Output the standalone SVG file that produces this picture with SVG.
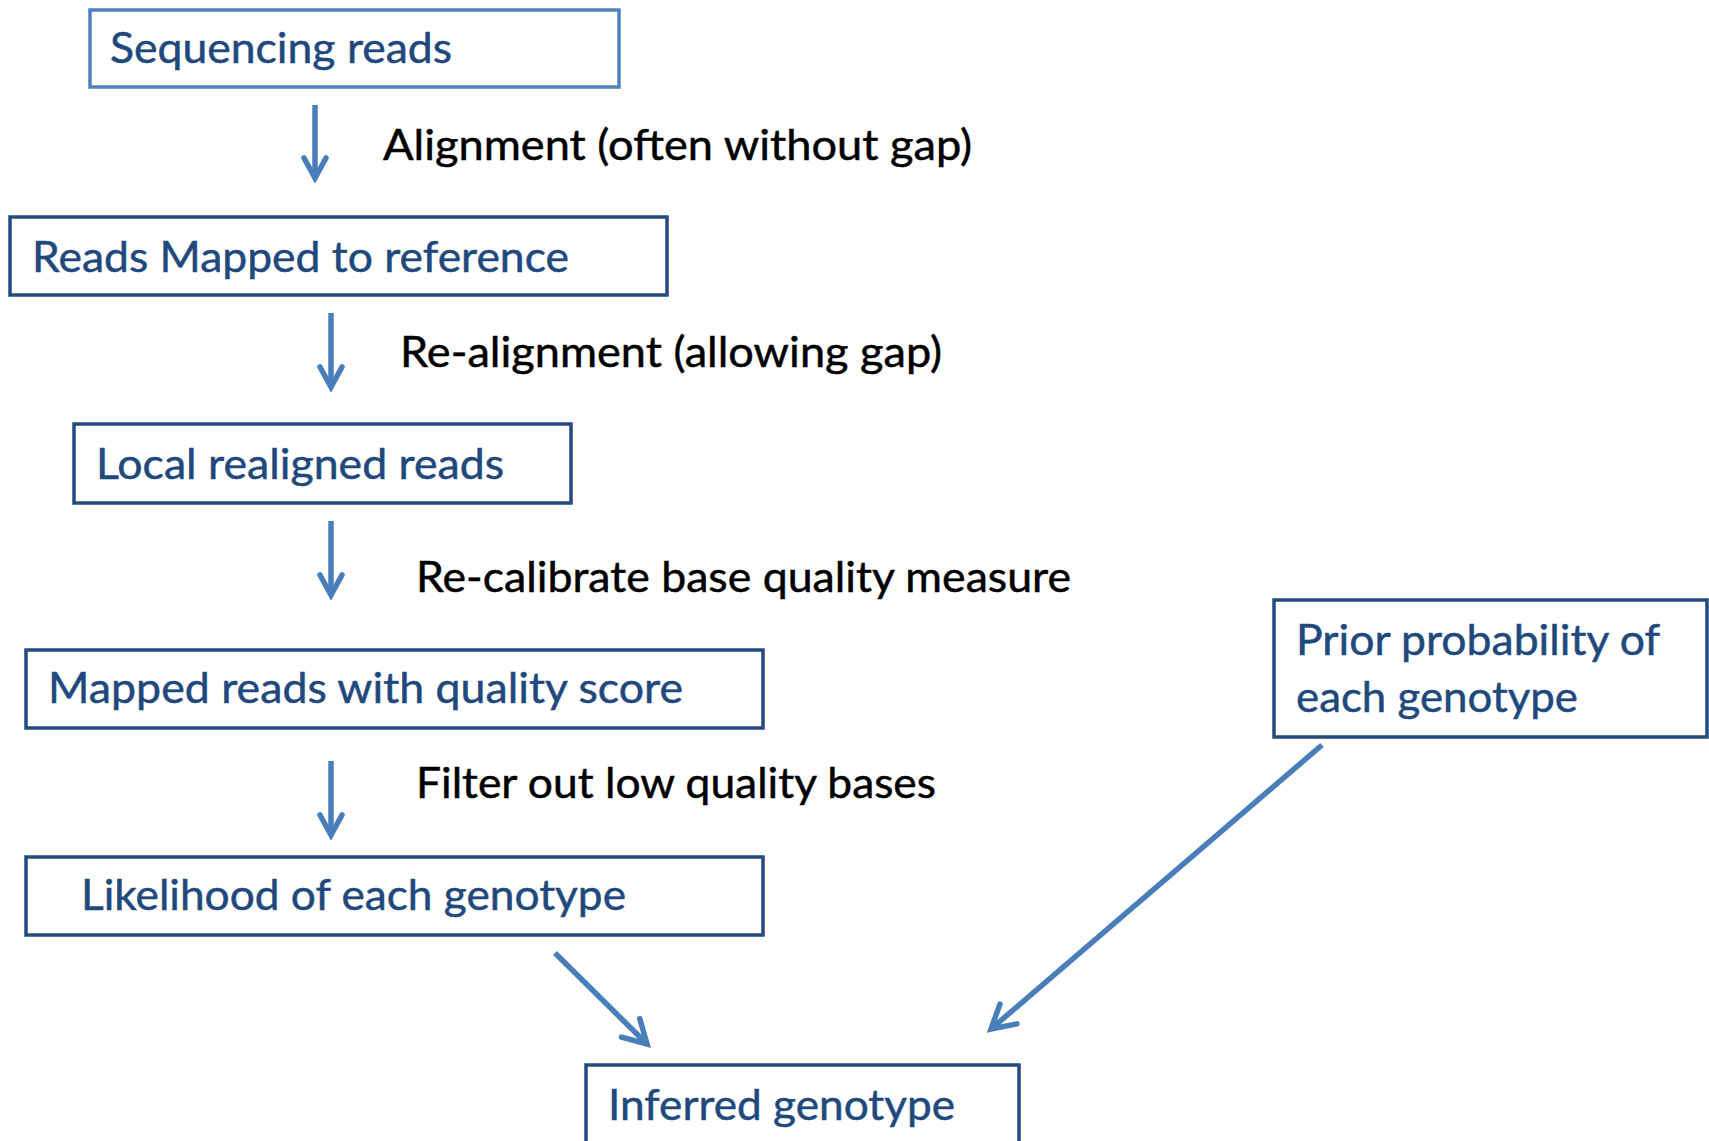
<svg xmlns="http://www.w3.org/2000/svg" width="1709" height="1141" viewBox="0 0 1709 1141">
  <style>
    .box { fill: #ffffff; stroke: #234A7D; stroke-width: 3.5; }
    .box1 { fill: #ffffff; stroke: #4F81BD; stroke-width: 3.5; }
    .nt { font-family: Lato, "Open Sans", "Liberation Sans", sans-serif; font-size: 43px; fill: #1F497D; stroke: #1F497D; stroke-width: 0.5; }
    .lb { font-family: Lato, "Open Sans", "Liberation Sans", sans-serif; font-size: 43px; fill: #000000; stroke: #000000; stroke-width: 0.5; }
    .conn { stroke: #4A7EBB; stroke-width: 5.5; fill: none; }
    .conn2 { stroke: #4A7EBB; stroke-width: 5.5; fill: none; }
  </style>
  <defs>
    <marker id="ah" markerUnits="userSpaceOnUse" markerWidth="40" markerHeight="40" viewBox="-30 -20 40 40" refX="0" refY="0" orient="auto">
      <path d="M -20 -11 L 0 0 L -20 11" fill="none" stroke="#4A7EBB" stroke-width="5.5" stroke-linejoin="miter" stroke-miterlimit="10" stroke-linecap="round"/>
    </marker>
    <marker id="ah2" markerUnits="userSpaceOnUse" markerWidth="40" markerHeight="40" viewBox="-30 -20 40 40" refX="0" refY="0" orient="auto">
      <path d="M -23 -13 L 0 0 L -23 13" fill="none" stroke="#4A7EBB" stroke-width="5.5" stroke-linejoin="miter" stroke-miterlimit="10" stroke-linecap="round"/>
    </marker>
  </defs>
  <rect width="1709" height="1141" fill="#ffffff"/>

  <g id="connectors">
    <line class="conn" x1="315" y1="105" x2="315" y2="178" marker-end="url(#ah)"/>
    <line class="conn" x1="331" y1="313" x2="331" y2="387" marker-end="url(#ah)"/>
    <line class="conn" x1="331" y1="521" x2="331" y2="595" marker-end="url(#ah)"/>
    <line class="conn" x1="331" y1="761" x2="331" y2="835" marker-end="url(#ah)"/>
    <line class="conn2" x1="555" y1="953" x2="647" y2="1044" marker-end="url(#ah2)"/>
    <line class="conn2" x1="1322" y1="745" x2="991" y2="1029" marker-end="url(#ah2)"/>
    <text class="lb" x="383" y="160" textLength="589" lengthAdjust="spacingAndGlyphs">Alignment (often without gap)</text>
    <text class="lb" x="400" y="367" textLength="542" lengthAdjust="spacingAndGlyphs">Re-alignment (allowing gap)</text>
    <text class="lb" x="416" y="592" textLength="655" lengthAdjust="spacingAndGlyphs">Re-calibrate base quality measure</text>
    <text class="lb" x="416" y="798" textLength="520" lengthAdjust="spacingAndGlyphs">Filter out low quality bases</text>
  </g>

  <g id="n1">
    <rect class="box1" x="90" y="10" width="529" height="77"/>
    <text class="nt" x="110" y="63" textLength="342" lengthAdjust="spacingAndGlyphs">Sequencing reads</text>
  </g>
  <g id="n2">
    <rect class="box" x="10" y="217" width="657" height="78"/>
    <text class="nt" x="32" y="272" textLength="537" lengthAdjust="spacingAndGlyphs">Reads Mapped to reference</text>
  </g>
  <g id="n3">
    <rect class="box" x="74" y="424" width="497" height="79"/>
    <text class="nt" x="96" y="479" textLength="408" lengthAdjust="spacingAndGlyphs">Local realigned reads</text>
  </g>
  <g id="n4">
    <rect class="box" x="26" y="650" width="737" height="78"/>
    <text class="nt" x="48" y="703" textLength="635" lengthAdjust="spacingAndGlyphs">Mapped reads with quality score</text>
  </g>
  <g id="n5">
    <rect class="box" x="26" y="857" width="737" height="78"/>
    <text class="nt" x="81" y="910" textLength="545" lengthAdjust="spacingAndGlyphs">Likelihood of each genotype</text>
  </g>
  <g id="n6">
    <rect class="box" x="1274" y="600" width="433" height="137"/>
    <text class="nt" x="1296" y="655" textLength="364" lengthAdjust="spacingAndGlyphs">Prior probability of</text>
    <text class="nt" x="1296" y="712" textLength="282" lengthAdjust="spacingAndGlyphs">each genotype</text>
  </g>
  <g id="n7">
    <rect class="box" x="586" y="1065" width="433" height="90"/>
    <text class="nt" x="608" y="1120" textLength="347" lengthAdjust="spacingAndGlyphs">Inferred genotype</text>
  </g>
</svg>
